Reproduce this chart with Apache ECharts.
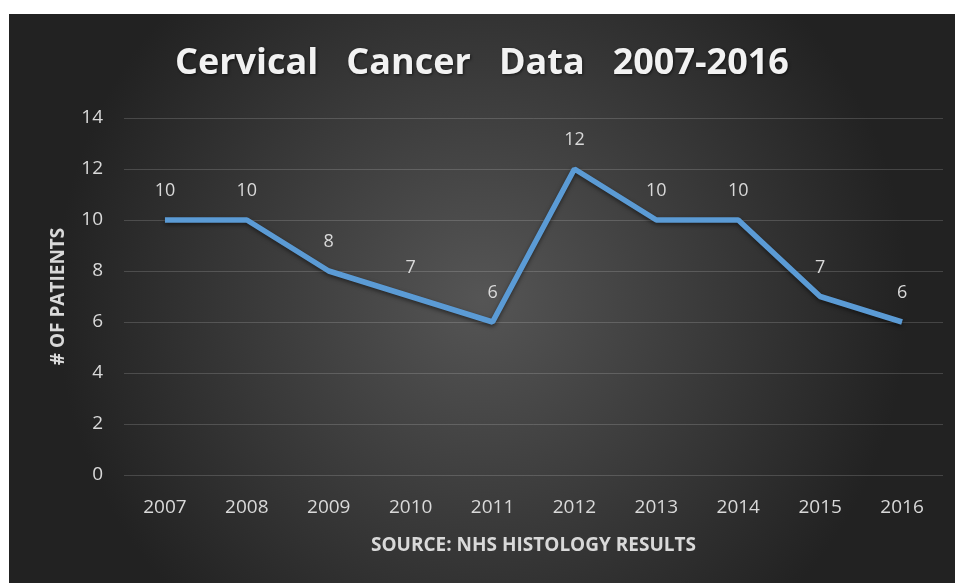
<!DOCTYPE html>
<html>
<head>
<meta charset="utf-8">
<script src="https://cdn.jsdelivr.net/npm/echarts@6/dist/echarts.min.js"></script>
<style>
  html, body { margin: 0; padding: 0; background: #fff; }
  #chart { position: absolute; left: 9px; top: 14px; width: 946px; height: 569px; }
</style>
</head>
<body>
<div id="chart"></div>
<script>
  // datos del gráfico
  const years = ['2007', '2008', '2009', '2010', '2011', '2012', '2013', '2014', '2015', '2016'];
  const patients = [10, 10, 8, 7, 6, 12, 10, 10, 7, 6];

  const chart = echarts.init(document.getElementById('chart'));
  const font = 'Open Sans';
  const option = {
      backgroundColor: {
          type: 'radial', x: 0.5, y: 0.5, r: 0.75,
          colorStops: [
              { offset: 0, color: '#555555' },
              { offset: 1, color: '#222222' }
          ]
      },
      title: {
          text: 'Cervical   Cancer   Data   2007-2016',
          left: 'center',
          top: 27,
          textStyle: {
              color: '#f2f2f2',
              fontFamily: font,
              fontSize: 36,
              fontWeight: 'bold',
              textShadowColor: 'rgba(0,0,0,0.6)',
              textShadowBlur: 3,
              textShadowOffsetX: 1,
              textShadowOffsetY: 1
          }
      },
      grid: { left: 115, right: 12, top: 104, bottom: 108 },
      xAxis: {
          type: 'category',
          data: years,
          name: 'SOURCE: NHS HISTOLOGY RESULTS',
          nameLocation: 'middle',
          nameGap: 61,
          nameTextStyle: { color: '#d9d9d9', fontFamily: font, fontSize: 19, fontWeight: 'bold' },
          axisLine: { show: false },
          axisTick: { show: false },
          axisLabel: { color: '#d9d9d9', fontFamily: font, fontSize: 19, margin: 23 }
      },
      yAxis: {
          type: 'value',
          min: 0, max: 14, interval: 2,
          name: '# OF PATIENTS',
          nameLocation: 'middle',
          nameGap: 56,
          nameTextStyle: { color: '#d9d9d9', fontFamily: font, fontSize: 19, fontWeight: 'bold' },
          axisLabel: { color: '#d9d9d9', fontFamily: font, fontSize: 19, margin: 21 },
          splitLine: { lineStyle: { color: 'rgba(255,255,255,0.16)', width: 1 } }
      },
      series: [
          {
              name: 'Patients',
              type: 'line',
              data: patients,
              symbol: 'circle',
              symbolSize: 2,
              itemStyle: { color: 'rgba(0,0,0,0)' },
              lineStyle: {
                  color: '#5b9bd5', width: 5.5,
                  shadowColor: 'rgba(0,0,0,0.5)', shadowBlur: 4, shadowOffsetY: 2
              },
              label: {
                  show: true,
                  position: 'top',
                  distance: 19,
                  color: '#d9d9d9',
                  fontFamily: font,
                  fontSize: 18
              }
          }
      ]
  };
  chart.setOption(option);
</script>
</body>
</html>
